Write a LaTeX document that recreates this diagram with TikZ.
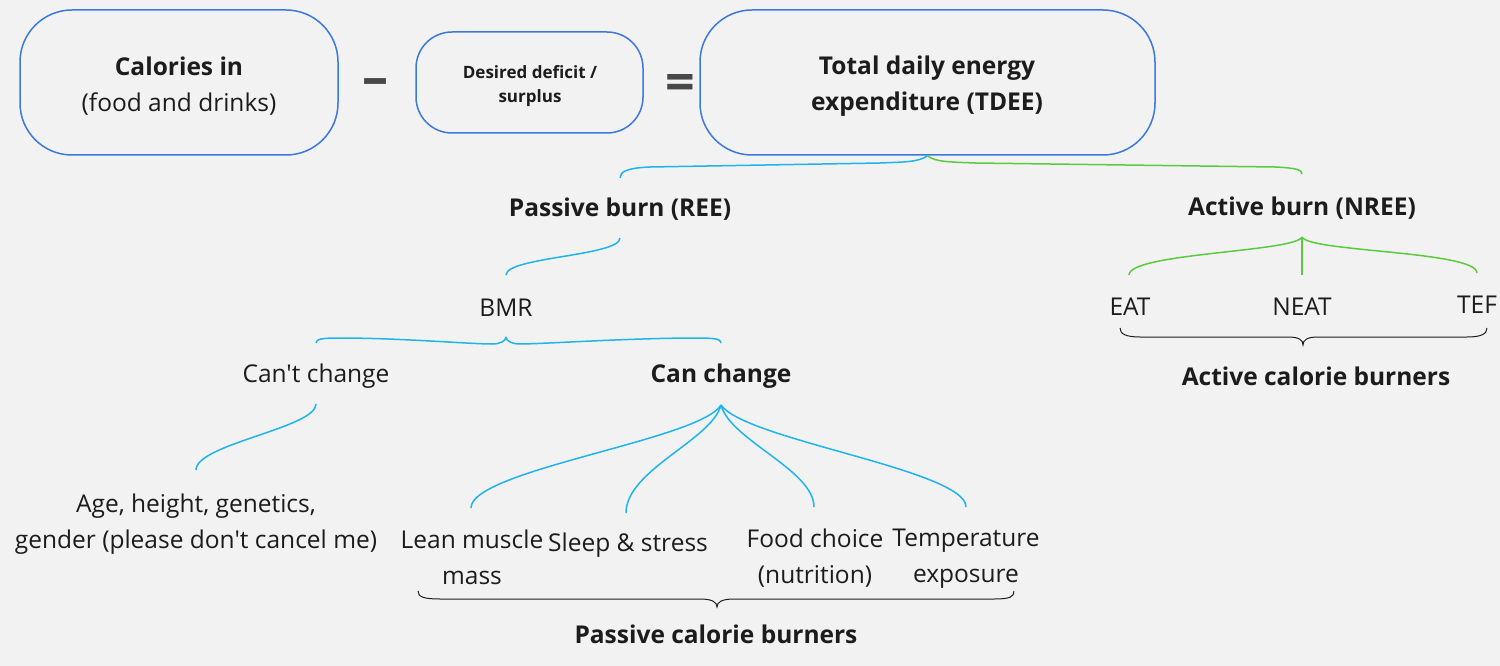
\documentclass[tikz,border=0pt]{standalone}
\usepackage{fontspec}
\setmainfont{Open Sans}[Ligatures=TeXOff]
\definecolor{bg}{HTML}{F2F2F2}
\definecolor{boxblue}{HTML}{3B78E0}
\definecolor{cyanl}{HTML}{1EB4EE}
\definecolor{greenl}{HTML}{5ACB3E}
\definecolor{ink}{HTML}{1C1C1C}
\definecolor{signgray}{HTML}{484848}
\begin{document}
\begin{tikzpicture}[x=1pt,y=-1pt,
  every node/.style={text=ink},
  rbox/.style={draw=boxblue, line width=1.5pt, inner sep=0pt},
  lbl/.style={inner sep=0pt, align=center, font=\fontsize{24.5}{36}\selectfont},
  blbl/.style={lbl, font=\fontsize{24.5}{36}\selectfont\bfseries},
  sign/.style={inner sep=0pt, text=signgray, font=\fontsize{52}{52}\selectfont\bfseries},
  cy/.style={draw=cyanl, line width=1.5pt},
  gr/.style={draw=greenl, line width=1.5pt},
  brc/.style={draw=ink, line width=1pt}]
\fill[bg] (0,0) rectangle (1500,666);
\useasboundingbox (0,0) rectangle (1500,666);

% boxes
\node[rbox, rounded corners=52pt, minimum width=318pt, minimum height=145pt] (cal) at (179,82.5) {};
\node[rbox, rounded corners=36pt, minimum width=227pt, minimum height=101pt] (des) at (529.5,82.5) {};
\node[rbox, rounded corners=52pt, minimum width=455pt, minimum height=145pt] (tdee) at (927.5,82.5) {};
\node[lbl] (calt) at (179,86.6) {\textbf{Calories in}\\(food and drinks)};
\node[lbl, font=\fontsize{17}{24}\selectfont\bfseries] (dest) at (530,86.3) {Desired deficit /\\surplus};
\node[blbl] (tdeet) at (927,86.6) {Total daily energy\\expenditure (TDEE)};
\node[sign] (minus) at (375,87) {–};
\node[sign] (equals) at (680,88) {=};

% labels
\node[blbl, anchor=base] (passive) at (620,216.7) {Passive burn (REE)};
\node[blbl, anchor=base] (active) at (1302,215) {Active burn (NREE)};
\node[lbl, anchor=base] (bmr) at (506,316.7) {BMR};
\node[lbl, anchor=base] (cant) at (316,382.7) {Can't change};
\node[blbl, anchor=base] (can) at (721,382.7) {Can change};
\node[lbl] (age) at (196,524) {Age, height, genetics,\\gender (please don't cancel me)};
\node[lbl] (lean) at (472,557) {Lean muscle\\mass};
\node[lbl, anchor=base] (sleep) at (628,551.7) {Sleep \& stress};
\node[lbl] (food) at (815,558.3) {Food choice\\(nutrition)};
\node[lbl] (temp) at (966,558.9) {Temperature\\exposure};
\node[blbl, anchor=base] (pcb) at (716,643.3) {Passive calorie burners};
\node[lbl, anchor=base] (eat) at (1130,315) {EAT};
\node[lbl, anchor=base] (neat) at (1302,315) {NEAT};
\node[lbl, anchor=base] (tef) at (1477,313) {TEF};
\node[blbl, anchor=base] (acb) at (1316,385) {Active calorie burners};

% connector end points
\coordinate (passiveIn) at (620,178);
\coordinate (passiveOut) at (620,238);
\coordinate (activeIn) at (1302,174);
\coordinate (activeOut) at (1302,237);
\coordinate (bmrIn) at (506,275);
\coordinate (bmrOut) at (506,337);
\coordinate (cantIn) at (316,343);
\coordinate (cantOut) at (316,404);
\coordinate (canIn) at (721,343);
\coordinate (canOut) at (721,405);
\coordinate (ageIn) at (196,470);
\coordinate (leanIn) at (471,508);
\coordinate (sleepIn) at (626,513);
\coordinate (foodIn) at (814,507);
\coordinate (tempIn) at (966,507);
\coordinate (eatIn) at (1129,275);
\coordinate (neatIn) at (1302,275);
\coordinate (tefIn) at (1477,273);

% TDEE split
\draw[cy] (tdee.south) .. controls (919,162) and (905,162) .. (880,163) -- (650,167) .. controls (626,168) and (620,172) .. (passiveIn);
\draw[gr] (tdee.south) .. controls (935,162) and (950,162) .. (975,163) -- (1275,167) .. controls (1297,168) and (1302,170) .. (activeIn);

% passive side
\draw[cy] (passiveOut) .. controls (620,256) and (506,257) .. (bmrIn);
\draw[cy] (bmrOut) .. controls (506,341) and (500,344) .. (492,344) .. controls (470,344) and (400,338) .. (340,338) .. controls (322,338) and (316,339) .. (cantIn);
\draw[cy] (bmrOut) .. controls (506,341) and (512,344) .. (520,344) .. controls (542,344) and (630,338) .. (697,338) .. controls (715,338) and (721,339) .. (canIn);
\draw[cy] (cantOut) .. controls (316,428) and (196,444) .. (ageIn);
\draw[cy] (canOut) .. controls (700,440) and (471,470) .. (leanIn);
\draw[cy] (canOut) .. controls (712,440) and (626,470) .. (sleepIn);
\draw[cy] (canOut) .. controls (730,440) and (814,470) .. (foodIn);
\draw[cy] (canOut) .. controls (745,440) and (966,470) .. (tempIn);

% active side
\draw[gr] (activeOut) .. controls (1295,252) and (1129,253) .. (eatIn);
\draw[gr] (activeOut) -- (neatIn);
\draw[gr] (activeOut) .. controls (1309,252) and (1477,251) .. (tefIn);

% braces
\draw[brc] (418,591) .. controls (418,597) and (424,599) .. (440,599) -- (700,599) .. controls (712,599) and (717,602) .. (717,607) .. controls (717,602) and (722,599) .. (734,599) -- (994,599) .. controls (1010,599) and (1014,597) .. (1014,591);
\draw[brc] (1120,328) .. controls (1120,334) and (1126,337) .. (1140,337) -- (1288,337) .. controls (1299,337) and (1303,340) .. (1303,345) .. controls (1303,340) and (1307,337) .. (1318,337) -- (1467,337) .. controls (1481,337) and (1487,334) .. (1487,328);
\end{tikzpicture}
\end{document}
